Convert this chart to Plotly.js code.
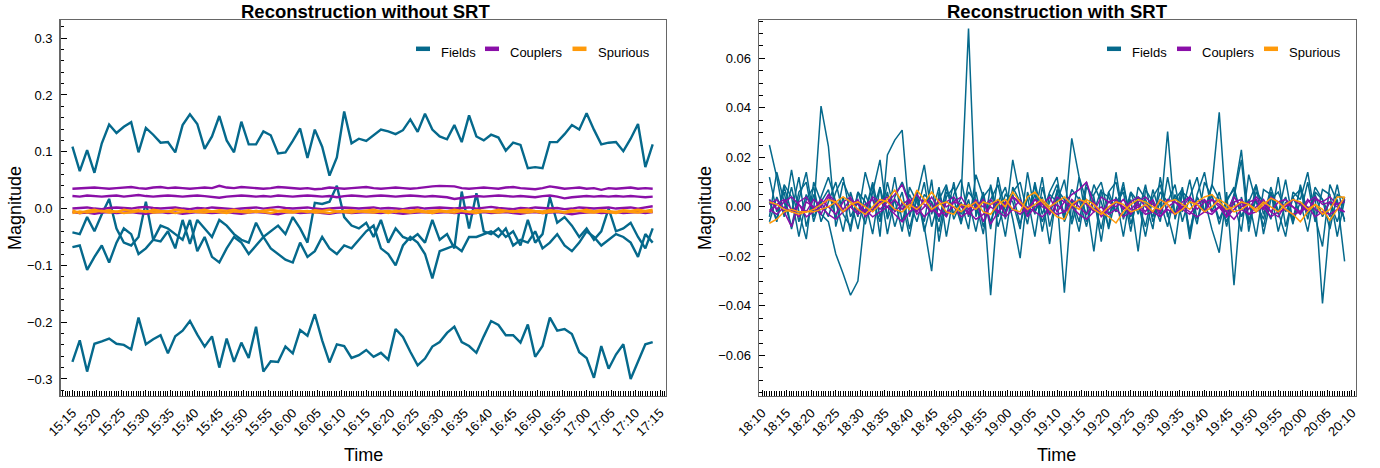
<!DOCTYPE html>
<html>
<head>
<meta charset="utf-8">
<script src="https://cdn.plot.ly/plotly-3.0.1.min.js"></script>
<style>html,body{margin:0;padding:0;background:#fff;}#chart{width:1380px;height:468px;}</style>
</head>
<body>
<div id="chart"></div>
<script>
// ---------------- DATA ----------------
const titles = ["Reconstruction without SRT", "Reconstruction with SRT"];
const seriesNames = ["Fields", "Couplers", "Spurious"];
const colors = {Fields: "#05698c", Couplers: "#8a0fa8", Spurious: "#ff9a0a"};
const leftStart = "15:15:00";   // first sample, left panel
const rightStart = "18:11:30";  // first sample, right panel
const stepSeconds = 90;

// Left panel (without SRT)
const leftFields1 = [
 0.109,0.066,0.103,0.063,0.115,0.148,0.133,0.144,0.152,0.099,
 0.142,0.130,0.116,0.117,0.099,0.147,0.166,0.149,0.105,0.127,
 0.163,0.120,0.099,0.153,0.113,0.113,0.136,0.129,0.097,0.099,
 0.119,0.141,0.089,0.139,0.109,0.058,0.090,0.171,0.115,0.123,
 0.119,0.129,0.139,0.136,0.131,0.138,0.157,0.135,0.167,0.139,
 0.127,0.122,0.147,0.117,0.164,0.127,0.120,0.130,0.125,0.102,
 0.116,0.112,0.071,0.073,0.071,0.117,0.117,0.131,0.147,0.139,
 0.168,0.139,0.113,0.116,0.117,0.101,0.123,0.149,0.073,0.113];
const leftFields2 = [
 -0.270,-0.232,-0.287,-0.238,-0.234,-0.229,-0.238,-0.240,-0.248,-0.192,
 -0.239,-0.230,-0.223,-0.255,-0.225,-0.215,-0.198,-0.222,-0.243,-0.225,
 -0.280,-0.229,-0.270,-0.236,-0.263,-0.208,-0.287,-0.269,-0.270,-0.243,
 -0.255,-0.214,-0.224,-0.186,-0.232,-0.271,-0.239,-0.242,-0.263,-0.258,
 -0.249,-0.261,-0.254,-0.266,-0.212,-0.226,-0.252,-0.276,-0.264,-0.243,
 -0.235,-0.219,-0.208,-0.235,-0.242,-0.254,-0.225,-0.198,-0.205,-0.223,
 -0.223,-0.236,-0.204,-0.261,-0.242,-0.192,-0.215,-0.212,-0.221,-0.253,
 -0.263,-0.298,-0.242,-0.282,-0.257,-0.239,-0.300,-0.270,-0.239,-0.235];
const leftFields3 = [
 -0.042,-0.045,-0.015,-0.040,-0.010,0.017,-0.035,-0.060,-0.065,-0.050,
 0.012,-0.055,-0.058,-0.040,-0.070,-0.020,-0.062,-0.020,-0.035,-0.050,
 -0.020,-0.030,-0.045,-0.055,-0.060,-0.025,-0.050,-0.040,-0.030,-0.045,
 -0.015,-0.035,-0.060,0.010,0.008,0.012,0.040,-0.015,-0.030,-0.035,
 -0.025,-0.050,-0.020,-0.060,-0.035,-0.050,-0.055,-0.045,-0.060,-0.020,
 -0.055,-0.045,-0.070,0.030,-0.035,0.027,-0.040,-0.045,-0.035,-0.050,
 -0.040,-0.065,-0.020,-0.060,-0.045,0.020,-0.025,-0.015,-0.030,-0.050,
 -0.035,-0.055,-0.040,0.000,-0.040,-0.035,-0.025,-0.050,-0.070,-0.035];
const leftFields4 = [
 -0.068,-0.065,-0.108,-0.085,-0.065,-0.095,-0.060,-0.035,-0.045,-0.080,
 -0.070,-0.055,-0.030,-0.035,-0.045,-0.055,-0.020,-0.075,-0.050,-0.085,
 -0.095,-0.070,-0.050,-0.060,-0.080,-0.065,-0.050,-0.070,-0.080,-0.090,
 -0.095,-0.060,-0.085,-0.075,-0.050,-0.070,-0.080,-0.065,-0.070,-0.055,
 -0.040,-0.030,-0.070,-0.080,-0.100,-0.065,-0.050,-0.060,-0.080,-0.123,
 -0.075,-0.070,-0.065,-0.075,-0.050,-0.050,-0.045,-0.040,-0.050,-0.035,
 -0.065,-0.055,-0.060,-0.040,-0.070,-0.060,-0.045,-0.065,-0.075,-0.060,
 -0.040,-0.050,-0.065,-0.055,-0.045,-0.050,-0.060,-0.085,-0.045,-0.060];
const leftCouplers1 = [
 0.035,0.036,0.036,0.037,0.036,0.035,0.036,0.037,0.038,0.036,
 0.035,0.037,0.038,0.036,0.037,0.036,0.035,0.036,0.037,0.036,
 0.040,0.037,0.036,0.038,0.037,0.036,0.035,0.036,0.038,0.037,
 0.036,0.035,0.036,0.034,0.035,0.037,0.036,0.035,0.036,0.037,
 0.038,0.036,0.035,0.036,0.037,0.036,0.035,0.036,0.038,0.039,
 0.040,0.040,0.039,0.036,0.035,0.036,0.037,0.036,0.035,0.037,
 0.038,0.036,0.035,0.034,0.036,0.039,0.037,0.035,0.036,0.037,
 0.035,0.036,0.033,0.036,0.035,0.036,0.037,0.035,0.036,0.035];
const leftCouplers2 = [
 0.022,0.021,0.023,0.022,0.021,0.022,0.023,0.021,0.022,0.024,
 0.022,0.021,0.022,0.023,0.022,0.021,0.022,0.023,0.022,0.021,
 0.019,0.021,0.022,0.023,0.022,0.021,0.022,0.021,0.023,0.022,
 0.021,0.022,0.023,0.022,0.021,0.022,0.020,0.022,0.023,0.022,
 0.021,0.022,0.023,0.022,0.021,0.022,0.023,0.022,0.021,0.022,
 0.021,0.020,0.017,0.019,0.021,0.022,0.021,0.022,0.023,0.022,
 0.021,0.022,0.021,0.020,0.022,0.023,0.021,0.018,0.020,0.021,
 0.022,0.021,0.022,0.021,0.022,0.021,0.022,0.021,0.020,0.021];
const leftCouplers3 = [
 0.000,0.001,0.002,0.000,-0.001,0.001,0.002,0.001,0.000,0.002,
 0.003,0.001,0.000,0.001,0.002,0.000,-0.001,0.001,0.000,0.002,
 0.001,0.000,-0.001,0.000,0.001,0.002,0.000,0.001,0.003,0.001,
 0.000,0.001,0.002,0.000,-0.001,0.000,0.001,0.002,0.001,0.000,
 0.001,0.002,0.000,0.001,0.000,-0.001,0.001,0.002,0.000,0.001,
 0.002,0.001,0.000,0.001,0.002,0.000,0.001,0.003,0.001,0.000,
 -0.001,0.001,0.000,0.002,0.001,0.000,0.001,-0.001,0.000,0.002,
 0.001,0.000,0.001,0.002,0.000,0.001,0.002,0.000,0.002,0.004];
const leftCouplers4 = [
 -0.006,-0.008,-0.007,-0.009,-0.007,-0.006,-0.008,-0.007,-0.006,-0.008,
 -0.009,-0.007,-0.006,-0.008,-0.007,-0.009,-0.008,-0.006,-0.007,-0.008,
 -0.007,-0.006,-0.008,-0.009,-0.007,-0.006,-0.007,-0.008,-0.010,-0.007,
 -0.006,-0.008,-0.007,-0.006,-0.008,-0.009,-0.007,-0.006,-0.008,-0.007,
 -0.006,-0.007,-0.008,-0.006,-0.007,-0.009,-0.008,-0.007,-0.006,-0.008,
 -0.007,-0.006,-0.008,-0.007,-0.009,-0.007,-0.006,-0.008,-0.007,-0.006,
 -0.008,-0.009,-0.007,-0.006,-0.008,-0.007,-0.006,-0.008,-0.010,-0.008,
 -0.007,-0.006,-0.008,-0.007,-0.006,-0.008,-0.007,-0.006,-0.008,-0.006];
const leftSpurious1 = [
 -0.003,-0.008,-0.004,-0.002,-0.005,-0.003,-0.006,-0.002,-0.004,-0.003,
 -0.006,-0.002,-0.004,-0.005,-0.002,-0.003,-0.006,-0.004,-0.002,-0.005,
 -0.003,-0.004,-0.002,-0.005,-0.003,-0.006,-0.004,-0.002,-0.004,-0.003,
 -0.005,-0.004,-0.006,-0.003,-0.004,-0.002,-0.005,-0.004,-0.003,-0.005,
 -0.003,-0.002,-0.005,-0.004,-0.006,-0.003,-0.004,-0.002,-0.005,-0.004,
 -0.003,-0.005,-0.002,-0.004,-0.006,-0.003,-0.004,-0.005,-0.002,-0.004,
 -0.006,-0.003,-0.002,-0.004,-0.005,-0.003,-0.004,-0.006,-0.003,-0.004,
 -0.002,-0.005,-0.003,-0.004,-0.006,-0.003,-0.004,-0.002,-0.004,-0.002];
const leftSpurious2 = [
 -0.008,-0.005,-0.007,-0.006,-0.004,-0.007,-0.005,-0.008,-0.006,-0.005,
 -0.004,-0.007,-0.006,-0.005,-0.008,-0.006,-0.004,-0.006,-0.007,-0.005,
 -0.006,-0.008,-0.005,-0.006,-0.007,-0.004,-0.006,-0.008,-0.005,-0.006,
 -0.007,-0.005,-0.004,-0.007,-0.006,-0.008,-0.005,-0.006,-0.007,-0.005,
 -0.006,-0.007,-0.005,-0.008,-0.004,-0.006,-0.007,-0.005,-0.006,-0.008,
 -0.005,-0.006,-0.007,-0.004,-0.006,-0.008,-0.005,-0.006,-0.007,-0.005,
 -0.004,-0.006,-0.007,-0.005,-0.008,-0.006,-0.005,-0.007,-0.006,-0.004,
 -0.006,-0.007,-0.005,-0.006,-0.008,-0.005,-0.006,-0.007,-0.005,-0.006];

// Right panel (with SRT)
const rightFields1 = [
 0.025,0.012,-0.004,0.008,-0.006,0.005,-0.002,0.0407,0.0245,-0.008,
 0.004,-0.010,0.006,-0.003,0.009,-0.012,0.021,0.027,0.031,-0.004,
 0.006,-0.010,0.002,-0.006,0.008,-0.003,0.004,0.0721,-0.004,0.006,
 -0.009,0.012,-0.002,0.005,-0.007,0.004,-0.012,0.008,-0.003,0.006,
 -0.005,0.0277,0.012,-0.006,0.003,-0.009,0.006,-0.002,0.008,-0.004,
 0.002,-0.008,0.007,-0.003,0.0304,-0.005,0.006,-0.010,0.004,-0.002,
 0.008,0.0382,-0.004,0.005,0.023,-0.006,0.003,-0.008,0.006,-0.002,
 0.004,-0.007,0.009,-0.003,0.005,-0.004,0.002,-0.006,0.004];
const rightFields2 = [
 0.003,-0.006,0.008,-0.002,0.012,-0.008,0.005,-0.003,-0.006,-0.019,
 -0.027,-0.0357,-0.030,-0.002,0.010,-0.004,0.006,-0.008,0.002,-0.012,
 0.004,-0.008,-0.026,0.006,-0.004,0.010,-0.006,0.003,-0.010,0.005,
 -0.0357,0.002,0.008,-0.005,-0.0207,0.006,-0.003,0.012,-0.008,0.004,
 -0.0347,0.003,-0.006,0.010,-0.002,0.007,-0.009,0.004,-0.012,0.006,
 -0.003,0.009,-0.006,0.002,-0.008,0.005,-0.002,0.011,-0.005,0.003,
 -0.009,-0.0185,0.006,-0.0316,0.004,-0.007,0.009,-0.003,0.006,-0.010,
 0.002,-0.005,0.008,-0.002,0.004,-0.039,-0.006,0.003,-0.022];
const rightFields3 = [
 -0.004,0.014,0.002,-0.008,0.006,0.010,-0.006,0.004,0.012,0.002,
 -0.010,0.006,-0.004,0.014,0.003,-0.006,0.010,-0.002,0.006,-0.009,
 0.004,0.017,-0.003,0.008,-0.012,0.005,0.011,-0.004,0.006,-0.008,
 0.003,0.009,-0.005,0.019,0.004,-0.007,0.010,-0.003,0.006,0.012,
 -0.006,0.002,-0.010,0.008,0.004,-0.014,0.006,0.010,-0.004,0.003,
 -0.018,0.007,0.002,-0.006,0.012,-0.003,0.008,-0.011,0.005,0.014,
 -0.002,0.006,-0.008,0.004,0.019,-0.010,0.006,0.002,-0.005,0.012,
 -0.008,0.004,-0.003,0.010,-0.006,0.007,0.005,-0.012,0.003];
const rightFields4 = [
 0.002,-0.005,0.009,0.004,-0.012,0.003,0.008,-0.006,0.002,0.010,
 -0.003,-0.008,0.006,0.002,-0.011,0.008,-0.004,0.012,-0.006,0.005,
 -0.002,0.010,-0.008,0.003,0.009,-0.005,0.002,-0.009,0.013,0.004,
 -0.006,0.003,-0.012,0.008,0.002,-0.004,0.009,-0.010,0.005,0.002,
 0.011,-0.007,0.004,-0.003,0.009,0.002,-0.008,0.014,-0.005,0.006,
 0.002,-0.012,0.004,0.009,-0.003,-0.015,0.006,0.003,-0.007,0.010,
 0.004,-0.005,0.002,0.008,-0.004,0.003,-0.012,0.007,0.005,-0.003,
 0.011,-0.006,0.002,-0.010,0.006,0.003,-0.004,0.009,-0.006];
const rightFields5 = [
 -0.006,0.004,-0.003,0.015,-0.002,-0.013,0.010,0.002,-0.004,0.006,
 0.012,-0.004,0.002,-0.007,0.006,0.019,-0.005,0.003,-0.010,0.008,
 0.002,-0.006,0.011,-0.014,0.004,0.008,-0.003,0.006,0.002,-0.011,
 0.009,-0.004,0.005,0.002,-0.009,0.014,-0.002,0.004,-0.015,0.007,
 0.003,-0.005,0.012,0.002,-0.018,0.006,0.004,-0.002,0.010,-0.007,
 0.004,0.002,-0.009,0.012,-0.004,0.003,0.007,-0.013,0.004,-0.002,
 0.009,0.003,-0.006,0.002,-0.010,0.013,0.002,-0.005,0.008,-0.002,
 -0.012,0.006,0.003,0.014,-0.004,-0.016,0.009,0.002,-0.005];
const rightFields6 = [
 0.012,-0.002,0.006,-0.009,0.003,0.014,-0.004,0.002,0.007,-0.005,
 0.010,0.003,-0.009,0.005,-0.002,0.008,-0.011,0.004,0.010,0.002,
 -0.006,0.005,0.002,-0.010,0.006,0.003,-0.007,0.010,-0.002,0.004,
 0.008,-0.008,0.002,0.006,0.010,-0.003,0.005,-0.006,0.002,0.009,
 -0.004,0.007,0.003,-0.008,0.005,0.010,-0.003,0.002,0.006,-0.010,
 0.008,0.003,-0.004,0.006,0.002,0.009,-0.006,0.004,0.012,-0.002,
 0.005,-0.007,0.003,0.007,-0.004,0.002,0.009,-0.011,0.003,0.006,
 -0.002,0.004,0.007,-0.005,0.008,0.003,-0.009,0.005,0.003];
const rightCouplers1 = [
 0.001,0.003,-0.002,-0.008,0.002,0.004,-0.001,0.003,0.000,-0.003,
 0.002,0.004,-0.002,0.001,0.003,-0.001,0.002,0.005,0.009,0.001,
 -0.002,0.003,0.001,-0.004,0.002,0.004,0.000,-0.002,0.003,-0.006,
 0.001,0.002,-0.003,0.004,0.001,-0.002,0.003,0.000,-0.001,0.004,
 0.002,0.005,0.007,0.010,0.001,-0.003,0.002,0.003,-0.001,0.002,
 0.004,0.000,-0.002,0.003,0.001,-0.003,0.002,0.004,0.001,-0.002,
 0.003,0.000,-0.004,0.002,0.003,-0.001,0.004,0.001,-0.002,0.002,
 0.003,0.000,-0.003,0.002,0.004,0.001,0.002,0.001,0.003];
const rightCouplers2 = [
 -0.002,0.001,0.003,-0.001,-0.004,0.002,0.000,-0.003,0.004,0.001,
 -0.002,0.000,0.003,-0.004,-0.001,0.002,0.004,-0.002,0.001,0.003,
 -0.003,0.000,0.004,-0.001,-0.004,0.002,0.001,-0.003,0.000,0.003,
 -0.007,-0.002,0.002,-0.001,0.003,-0.004,0.000,0.002,-0.003,0.001,
 -0.002,0.003,0.000,-0.003,0.002,-0.004,-0.001,0.002,0.000,-0.003,
 0.001,-0.002,0.003,-0.004,0.000,0.002,-0.001,-0.003,0.001,0.003,
 -0.002,0.000,-0.004,-0.001,0.002,-0.003,0.000,0.003,-0.002,-0.004,
 0.001,0.000,-0.002,0.003,-0.001,-0.003,0.002,0.000,-0.002];
const rightCouplers3 = [
 0.003,-0.001,0.002,0.004,0.001,-0.002,0.003,0.000,0.005,0.002,
 -0.001,0.003,0.001,-0.002,0.004,0.002,0.000,0.003,-0.001,0.002,
 0.005,0.001,-0.002,0.003,0.000,0.002,0.004,-0.001,0.002,0.000,
 0.003,-0.002,0.001,0.004,0.002,-0.001,0.003,0.001,0.004,-0.002,
 0.002,0.000,0.003,0.001,-0.002,0.004,0.002,0.000,0.003,-0.001,
 0.002,0.004,0.001,-0.002,0.003,0.002,0.000,0.004,-0.001,0.002,
 0.003,0.001,-0.002,0.004,0.000,0.002,0.003,-0.001,0.004,0.002,
 0.000,0.003,0.001,-0.002,0.003,0.002,0.004,0.001,0.002];
const rightCouplers4 = [
 -0.001,-0.003,0.000,-0.002,0.001,-0.004,-0.002,0.000,-0.003,-0.005,
 -0.002,0.000,-0.003,-0.001,-0.004,-0.002,0.000,-0.003,-0.006,-0.002,
 0.000,-0.004,-0.001,-0.003,-0.002,0.000,-0.004,-0.002,-0.005,-0.003,
 0.000,-0.002,-0.004,-0.001,-0.003,0.000,-0.002,-0.004,-0.001,-0.003,
 -0.002,0.000,-0.003,-0.005,-0.002,0.000,-0.003,-0.001,-0.004,-0.002,
 0.000,-0.003,-0.002,-0.004,-0.001,-0.003,0.000,-0.002,-0.004,-0.002,
 -0.003,0.000,-0.002,-0.005,-0.001,-0.003,-0.002,0.000,-0.004,-0.002,
 -0.001,-0.003,-0.002,0.000,-0.004,-0.002,-0.003,-0.001,-0.002];
const rightSpurious1 = [
 -0.0066,-0.005,-0.002,-0.001,-0.002,-0.002,-0.001,0.001,0.003,0.002,
 -0.002,0.001,0.002,0.000,-0.002,0.001,0.003,0.0068,0.002,-0.001,
 0.0068,0.003,-0.001,0.001,0.002,0.000,-0.002,0.001,-0.001,0.002,
 0.001,0.003,0.000,0.006,0.002,-0.001,0.001,0.003,0.000,0.002,
 0.004,0.001,-0.001,0.003,0.001,-0.002,-0.004,-0.0065,-0.002,0.001,
 0.003,0.002,0.000,-0.001,0.002,0.003,0.001,-0.001,0.002,0.004,
 0.005,0.002,-0.001,0.000,0.002,0.001,-0.002,0.001,0.0035,0.002,
 -0.001,-0.003,-0.006,-0.002,0.001,-0.001,-0.0055,-0.001,0.004];
const rightSpurious2 = [
 0.002,0.001,-0.001,-0.002,-0.003,-0.002,-0.002,-0.001,0.000,0.002,
 0.004,0.002,-0.001,-0.003,0.000,0.003,0.002,-0.001,-0.002,0.001,
 -0.001,0.002,0.006,0.002,-0.002,-0.003,0.001,0.000,0.002,-0.002,
 -0.003,0.001,0.003,-0.001,-0.002,0.004,0.006,0.002,-0.001,-0.004,
 -0.005,0.001,0.003,0.002,-0.001,-0.003,0.000,0.002,0.001,-0.002,
 -0.001,0.001,-0.002,0.003,0.001,-0.003,-0.001,0.002,0.001,-0.002,
 0.000,0.003,0.001,-0.002,-0.001,0.001,-0.001,0.002,0.000,-0.002,
 0.001,0.003,0.002,-0.001,0.001,-0.003,-0.001,0.004,0.004];

const leftGroups = {
  Fields: [leftFields1, leftFields2, leftFields3, leftFields4],
  Couplers: [leftCouplers1, leftCouplers2, leftCouplers3, leftCouplers4],
  Spurious: [leftSpurious1, leftSpurious2]
};
const rightGroups = {
  Fields: [rightFields1, rightFields2, rightFields3, rightFields4, rightFields5, rightFields6],
  Couplers: [rightCouplers1, rightCouplers2, rightCouplers3, rightCouplers4],
  Spurious: [rightSpurious1, rightSpurious2]
};

// ---------------- BUILD ----------------
const DAY = "2024-01-01 ";
function pad(n){ return String(n).padStart(2, "0"); }
function timesFrom(start, n){
  const [h, m, s] = start.split(":").map(Number);
  const base = h * 3600 + m * 60 + s;
  const out = [];
  for (let i = 0; i < n; i++) {
    const t = base + i * stepSeconds;
    out.push(DAY + pad(Math.floor(t / 3600)) + ":" + pad(Math.floor((t % 3600) / 60)) + ":" + pad(t % 60));
  }
  return out;
}

const W = 1380, H = 468;
const FONT = "Liberation Sans, Arial, Helvetica, sans-serif";
const traces = [];
function addPanel(groups, start, xa, ya, lw){
  seriesNames.forEach(name => {
    groups[name].forEach(vals => {
      traces.push({
        type: "scatter", mode: "lines", x: timesFrom(start, vals.length), y: vals,
        xaxis: xa, yaxis: ya, line: {color: colors[name], width: lw},
        name: name, showlegend: false, hoverinfo: "skip"
      });
    });
  });
}
addPanel(leftGroups, leftStart, "x", "y", 2.4);
addPanel(rightGroups, rightStart, "x2", "y2", 1.5);

function xAxis(domain, range, tick0){
  return {
    domain: domain, type: "date", range: range,
    tick0: tick0, dtick: 300000, tickformat: "%H:%M", tickangle: -45,
    ticks: "inside", ticklen: 6, tickwidth: 1, tickcolor: "#000",
    tickfont: {family: FONT, size: 13, color: "#000"}, ticklabelstandoff: 3,
    showgrid: false, zeroline: false, showline: true, linecolor: "#666", linewidth: 1.3, mirror: true,
    minor: {dtick: 30000, ticks: "inside", ticklen: 5, tickwidth: 1, tickcolor: "#000", showgrid: false},
    fixedrange: true
  };
}
function yAxis(domain, range, dtick, fmt, mdtick){
  return {
    domain: domain, range: range, tick0: 0, dtick: dtick, tickformat: fmt,
    ticks: "inside", ticklen: 6, tickwidth: 1, tickcolor: "#000",
    tickfont: {family: FONT, size: 13, color: "#000"}, ticklabelstandoff: 4,
    showgrid: false, zeroline: false, showline: true, linecolor: "#666", linewidth: 1.3, mirror: true,
    minor: {dtick: mdtick, tick0: 0, ticks: "inside", ticklen: 3.5, tickwidth: 1, tickcolor: "#000", showgrid: false},
    fixedrange: true
  };
}

const yDom = [1 - 396 / H, 1 - 20 / H];
const xa1 = xAxis([60.5 / W, 666 / W], [DAY + "15:12:34", DAY + "17:16:13"], DAY + "15:15:00");
xa1.anchor = "y";
const xa2 = xAxis([759 / W, 1356 / W], [DAY + "18:09:23", DAY + "20:10:49"], DAY + "18:10:00");
xa2.anchor = "y2";
const ya1 = yAxis(yDom, [-0.330, 0.332], 0.1, ".1f", 0.02); ya1.anchor = "x";
const ya2 = yAxis(yDom, [-0.0764, 0.0755], 0.02, ".2f", 0.005); ya2.anchor = "x2";

// ---------------- TEXT & LEGENDS ----------------
const ann = [];
const shapes = [];
function txt(x, y, text, size, angle, xanchor){
  ann.push({xref: "paper", yref: "paper", x: x / W, y: 1 - y / H, text: text, showarrow: false,
    xanchor: xanchor || "center", yanchor: "middle", textangle: angle || 0, borderpad: 0,
    font: {family: FONT, size: size, color: "#000"}});
}
txt(365, 11, "<b>" + titles[0] + "</b>", 18.5);
txt(1057.5, 11, "<b>" + titles[1] + "</b>", 18.5);
txt(363.5, 455, "Time", 18);
txt(1056, 455, "Time", 18);
txt(15, 208, "Magnitude", 18, -90);
txt(705, 208, "Magnitude", 18, -90);

// legend: handle start positions (px) for each panel, as in the reference
const legendHandleX = [[416, 485, 572.5], [1107, 1177, 1264]];
legendHandleX.forEach(row => {
  row.forEach((hx, k) => {
    const name = seriesNames[k];
    shapes.push({type: "line", xref: "paper", yref: "paper",
      x0: hx / W, x1: (hx + 14) / W, y0: 1 - 48.8 / H, y1: 1 - 48.8 / H,
      line: {color: colors[name], width: 4.5}});
    txt(hx + 24, 52, name, 13, 0, "left");
  });
});

const layout = {
  width: W, height: H, autosize: false,
  margin: {l: 0, r: 0, t: 0, b: 0, pad: 0},
  paper_bgcolor: "#fff", plot_bgcolor: "#fff",
  font: {family: FONT, color: "#000"},
  xaxis: xa1, yaxis: ya1, xaxis2: xa2, yaxis2: ya2,
  annotations: ann, shapes: shapes, hovermode: false, showlegend: false
};

Plotly.newPlot("chart", traces, layout, {staticPlot: true, displayModeBar: false});
</script>
</body>
</html>
